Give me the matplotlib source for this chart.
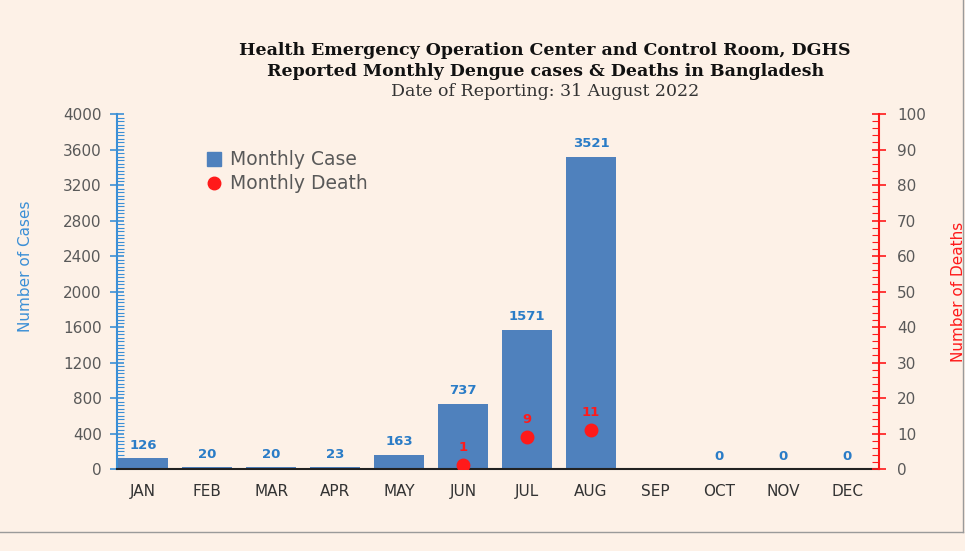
import numpy as np
import matplotlib.pyplot as plt
from matplotlib.ticker import MultipleLocator
from matplotlib.lines import Line2D

# Data
months = ["JAN", "FEB", "MAR", "APR", "MAY", "JUN", "JUL", "AUG", "SEP", "OCT", "NOV", "DEC"]
cases = [126, 20, 20, 23, 163, 737, 1571, 3521, 0, 0, 0, 0]
case_labels = ["126", "20", "20", "23", "163", "737", "1571", "3521", "", "0", "0", "0"]
death_months = ["JUN", "JUL", "AUG"]
deaths = [1, 9, 11]

bg = "#fdf1e7"
blue_bar = "#4f81bd"
blue_axis = "#3b8fd6"
red = "#ff1a1a"
grey = "#595959"

fig = plt.figure(figsize=(9.65, 5.51), dpi=100, facecolor=bg)
ax = fig.add_axes([0.1212, 0.1488, 0.7897, 0.6443])
ax.set_facecolor(bg)
x = np.arange(len(months))

ax.bar(x, cases, width=0.78, color=blue_bar, zorder=2)
for xi, v, lab in zip(x, cases, case_labels):
    ax.text(xi, v + 70, lab, ha="center", va="bottom", color="#2a7cc7",
            fontsize=9.5, fontweight="bold")
ax.set_xlim(-0.41, 11.5)
ax.set_ylim(0, 4000)
ax.yaxis.set_major_locator(MultipleLocator(400))
ax.yaxis.set_minor_locator(MultipleLocator(40))
ax.tick_params(axis="y", which="major", direction="inout", length=10, width=1.2,
               color=blue_axis, labelcolor=grey, labelsize=11, pad=6)
ax.tick_params(axis="y", which="minor", direction="in", length=5, width=0.8,
               color=blue_axis)
ax.set_xticks(x)
ax.set_xticklabels(months)
ax.tick_params(axis="x", length=0, labelsize=11, labelcolor="#333333", pad=11)
for s in ["top", "right"]:
    ax.spines[s].set_visible(False)
ax.spines["left"].set_color(blue_axis)
ax.spines["left"].set_linewidth(1.5)
ax.spines["bottom"].set_color("#222222")
ax.spines["bottom"].set_linewidth(1.5)
ax.set_ylabel("Number of Cases", color=blue_axis, fontsize=11)
ax.yaxis.set_label_coords(-0.11, 0.57)

ax2 = ax.twinx()
dx = [months.index(m) for m in death_months]
ax2.plot(dx, deaths, "o", color=red, markersize=9, zorder=3)
for xi, v in zip(dx, deaths):
    ax2.text(xi, v + 3.2, str(v), ha="center", va="bottom", color=red,
             fontsize=9.5, fontweight="bold")
ax2.set_ylim(0, 100)
ax2.yaxis.set_major_locator(MultipleLocator(10))
ax2.yaxis.set_minor_locator(MultipleLocator(2))
ax2.tick_params(axis="y", which="major", direction="inout", length=10, width=1.2,
                color=red, labelcolor=grey, labelsize=11, pad=8)
ax2.tick_params(axis="y", which="minor", direction="in", length=5, width=0.8,
                color=red)
for s in ["top", "left", "bottom"]:
    ax2.spines[s].set_visible(False)
ax2.spines["right"].set_color(red)
ax2.spines["right"].set_linewidth(1.5)
ax2.set_ylabel("Number of Deaths", color=red, fontsize=11)
ax2.yaxis.set_label_coords(1.095, 0.5)

handles = [Line2D([], [], marker="s", ls="", color=blue_bar, markersize=10),
           Line2D([], [], marker="o", ls="", color=red, markersize=9)]
ax.legend(handles, ["Monthly Case", "Monthly Death"], loc="upper left",
          bbox_to_anchor=(0.08, 0.945), frameon=False, fontsize=13.5,
          labelcolor=grey, handletextpad=-0.1, labelspacing=0.25)

fig.text(0.565, 0.9, "Health Emergency Operation Center and Control Room, DGHS",
         ha="center", fontsize=12.5, fontweight="bold", family="DejaVu Serif", color="#111111")
fig.text(0.565, 0.862, "Reported Monthly Dengue cases & Deaths in Bangladesh",
         ha="center", fontsize=12.5, fontweight="bold", family="DejaVu Serif", color="#111111")
fig.text(0.565, 0.825, "Date of Reporting: 31 August 2022",
         ha="center", fontsize=12.5, family="DejaVu Serif", color="#333333")

fig.add_artist(Line2D([0, 0.998], [0.034, 0.034], color="#9a9a9a", lw=1))
fig.add_artist(Line2D([0.998, 0.998], [0.034, 1], color="#9a9a9a", lw=1))

fig.savefig("out.png", facecolor=bg)
